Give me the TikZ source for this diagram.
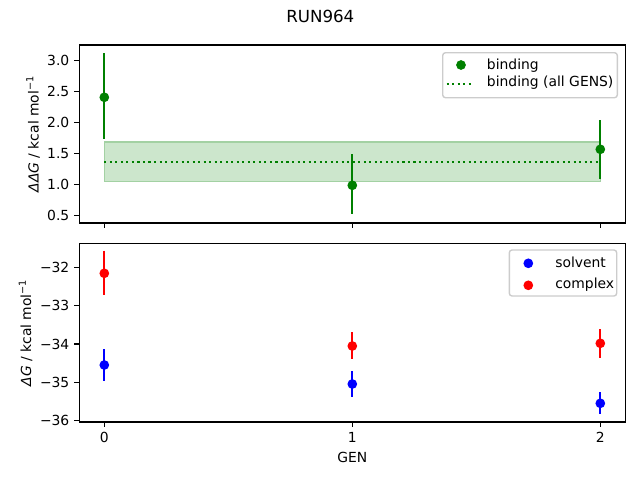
\documentclass[tikz,border=0pt]{standalone}
\usepackage{fontspec}
\setmainfont{DejaVu Sans}
\definecolor{mplgreen}{HTML}{008000}
\definecolor{mplblue}{HTML}{0000FF}
\definecolor{mplred}{HTML}{FF0000}
\definecolor{bandfill}{HTML}{CCE6CC}
\definecolor{bandedge}{HTML}{A3D1A3}
\definecolor{legendedge}{HTML}{CCCCCC}
\begin{document}
\begin{tikzpicture}[x=0.72pt,y=0.72pt,font=\fontsize{10}{12}\selectfont,
  spine/.style={black,line width=0.8pt},
  tickmark/.style={black,line width=0.8pt},
  errbar/.style={line width=1.5pt},
  meanline/.style={mplgreen,line width=1.5pt,dash pattern=on 1.5pt off 2.475pt},
  legendbox/.style={draw=legendedge,fill=white,fill opacity=0.8,line width=1pt,rounded corners=2pt}]
\tikzstyle{every node}+=[inner sep=0pt]
\useasboundingbox (0,0) rectangle (640,-480);
\node (title) at (320.3,-22) [anchor=base] {\fontsize{12}{14}\selectfont RUN964};
% top panel
\filldraw [fill=bandfill,draw=bandedge,line width=1pt] (104.3,-142) rectangle (600.3,-181.7);
\draw [meanline] (104.3,-162) -- (600.3,-162);
\draw [mplgreen,errbar] (104.3,-53.3) -- (104.3,-139.3);
\fill [mplgreen] (104.3,-97.3) circle (3.5pt);
\draw [mplgreen,errbar] (352.3,-154) -- (352.3,-214.3);
\fill [mplgreen] (352.3,-185.3) circle (3.5pt);
\draw [mplgreen,errbar] (600.3,-120) -- (600.3,-178.7);
\fill [mplgreen] (600.3,-149.3) circle (3.5pt);
\draw [spine] (79.3,-45) rectangle (625.3,-223);
\draw [tickmark] (104.3,-223) -- (104.3,-227.9);
\draw [tickmark] (352.3,-223) -- (352.3,-227.9);
\draw [tickmark] (600.3,-223) -- (600.3,-227.9);
\draw [tickmark] (79.3,-60.7) -- (74.4,-60.7);
\draw [tickmark] (79.3,-91.65) -- (74.4,-91.65);
\draw [tickmark] (79.3,-122.6) -- (74.4,-122.6);
\draw [tickmark] (79.3,-153.55) -- (74.4,-153.55);
\draw [tickmark] (79.3,-184.5) -- (74.4,-184.5);
\draw [tickmark] (79.3,-215.45) -- (74.4,-215.45);
\node (t30) at (69.6,-60.7) [anchor=east] {3.0};
\node (t25) at (69.6,-91.65) [anchor=east] {2.5};
\node (t20) at (69.6,-122.6) [anchor=east] {2.0};
\node (t15) at (69.6,-153.55) [anchor=east] {1.5};
\node (t10) at (69.6,-184.5) [anchor=east] {1.0};
\node (t05) at (69.6,-215.45) [anchor=east] {0.5};
\node (ddglabel) at (38.5,-134) [anchor=base,rotate=90] {\itshape ΔΔG\upshape{} / kcal mol\textsuperscript{−1}};
\draw [legendbox] (442.7,-52.7) rectangle (617.3,-97.7);
\fill [mplgreen] (461,-65) circle (3.5pt);
\node (bindtext) at (486.7,-69) [anchor=base west] {binding};
\draw [meanline] (446.7,-84) -- (474.3,-84);
\node (alltext) at (486.7,-86.7) [anchor=base west] {binding (all GENS)};
% bottom panel
\draw [mplblue,errbar] (104.3,-349) -- (104.3,-380.7);
\fill [mplblue] (104.3,-365) circle (3.5pt);
\draw [mplblue,errbar] (352.3,-371) -- (352.3,-396.7);
\fill [mplblue] (352.3,-384) circle (3.5pt);
\draw [mplblue,errbar] (600.3,-392) -- (600.3,-413.7);
\fill [mplblue] (600.3,-403.3) circle (3.5pt);
\draw [mplred,errbar] (104.3,-250.7) -- (104.3,-295);
\fill [mplred] (104.3,-273.3) circle (3.5pt);
\draw [mplred,errbar] (352.3,-332) -- (352.3,-358.7);
\fill [mplred] (352.3,-346) circle (3.5pt);
\draw [mplred,errbar] (600.3,-329) -- (600.3,-357.7);
\fill [mplred] (600.3,-343.3) circle (3.5pt);
\draw [spine] (79.3,-243.3) rectangle (625.3,-422);
\draw [tickmark] (104.3,-422) -- (104.3,-426.9);
\draw [tickmark] (352.3,-422) -- (352.3,-426.9);
\draw [tickmark] (600.3,-422) -- (600.3,-426.9);
\node (g0) at (104.3,-442) [anchor=base] {0};
\node (g1) at (352.3,-442) [anchor=base] {1};
\node (g2) at (600.3,-442) [anchor=base] {2};
\node (genlabel) at (352.3,-462.7) [anchor=base] {GEN};
\draw [tickmark] (79.3,-267.3) -- (74.4,-267.3);
\draw [tickmark] (79.3,-305.65) -- (74.4,-305.65);
\draw [tickmark] (79.3,-344) -- (74.4,-344);
\draw [tickmark] (79.3,-382.35) -- (74.4,-382.35);
\draw [tickmark] (79.3,-420.7) -- (74.4,-420.7);
\node (m32) at (69.6,-267.3) [anchor=east] {−32};
\node (m33) at (69.6,-305.65) [anchor=east] {−33};
\node (m34) at (69.6,-344) [anchor=east] {−34};
\node (m35) at (69.6,-382.35) [anchor=east] {−35};
\node (m36) at (69.6,-420.7) [anchor=east] {−36};
\node (dglabel) at (31,-332.7) [anchor=base,rotate=90] {\itshape ΔG\upshape{} / kcal mol\textsuperscript{−1}};
\draw [legendbox] (509.3,-250) rectangle (616.7,-296);
\fill [mplblue] (528.3,-263.3) circle (3.5pt);
\node (solvtext) at (555,-267.7) [anchor=base west] {solvent};
\fill [mplred] (528.3,-285.3) circle (3.5pt);
\node (cplxtext) at (555,-288.7) [anchor=base west] {complex};
\end{tikzpicture}
\end{document}
